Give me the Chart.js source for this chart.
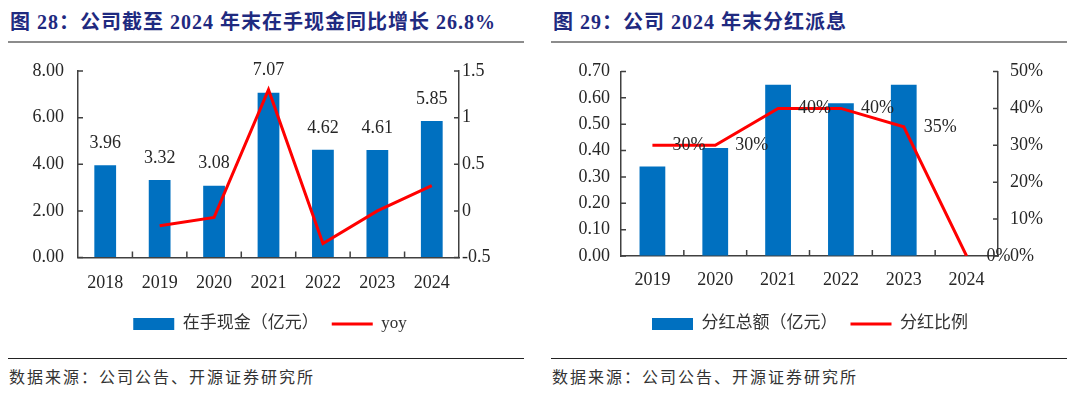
<!DOCTYPE html>
<html lang="zh">
<head>
<meta charset="UTF-8">
<title>在手现金与分红派息</title>
<script src="https://cdn.jsdelivr.net/npm/chart.js"></script>
<style>
  body { margin:0; width:1080px; height:394px; background:#fff; position:relative; overflow:hidden;
         font-family:"Liberation Serif","Noto Sans CJK SC",serif; }
  .title { position:absolute; top:10px; font-size:20px; font-weight:bold; color:#1F2A80; letter-spacing:1px;
           white-space:nowrap; line-height:24px; }
  .rule { position:absolute; top:41px; height:2px; background:#8c8c8c; }
  .src-rule { position:absolute; top:357.5px; height:1.5px; background:#222; }
  .src { position:absolute; top:366px; font-size:16px; letter-spacing:2px; color:#333; white-space:nowrap;
         line-height:20px; font-family:"Noto Sans CJK SC"; }
  canvas { position:absolute; top:50px; }
</style>
</head>
<body>

<div class="title" style="left:10px">图 28：公司截至 2024 年末在手现金同比增长 26.8%</div>
<div class="rule" style="left:8px;width:516px"></div>
<div class="title" style="left:553px">图 29：公司 2024 年末分红派息</div>
<div class="rule" style="left:551px;width:516px"></div>

<canvas id="cash" width="540" height="305" style="left:0"></canvas>
<canvas id="div" width="540" height="305" style="left:540px"></canvas>

<div class="src-rule" style="left:8px;width:516px"></div>
<div class="src" style="left:9px">数据来源：公司公告、开源证券研究所</div>
<div class="src-rule" style="left:551px;width:516px"></div>
<div class="src" style="left:552px">数据来源：公司公告、开源证券研究所</div>

<script>
// 图28：在手现金
var cashYears = ['2018', '2019', '2020', '2021', '2022', '2023', '2024'];
var cashValues = [3.96, 3.32, 3.08, 7.07, 4.62, 4.61, 5.85];
var cashYoy = [null, -0.16, -0.07, 1.30, -0.35, 0.00, 0.27];

// 图29：分红
var divYears = ['2019', '2020', '2021', '2022', '2023', '2024'];
var divValues = [0.34, 0.41, 0.65, 0.58, 0.65, 0];
var divRatio = [30, 30, 40, 40, 35, 0];

var fam = '"Liberation Serif", "Noto Sans CJK SC", serif';
var axisColor = '#404040';
var textColor = '#262626';

// 刻度线朝内
var innerTicks = {
  id: 'innerTicks',
  afterDraw: function(chart) {
    var ctx = chart.ctx, a = chart.chartArea;
    ctx.save();
    ctx.strokeStyle = axisColor;
    ctx.lineWidth = 1.5;
    ctx.beginPath();
    chart.scales.y.ticks.forEach(function(t, i) {
      var py = chart.scales.y.getPixelForTick(i);
      ctx.moveTo(a.left, py); ctx.lineTo(a.left + 5, py);
    });
    chart.scales.y1.ticks.forEach(function(t, i) {
      var py = chart.scales.y1.getPixelForTick(i);
      ctx.moveTo(a.right, py); ctx.lineTo(a.right - 5, py);
    });
    var n = chart.data.labels.length, w = (a.right - a.left) / n;
    for (var i = 1; i < n; i++) {
      var px = a.left + i * w;
      ctx.moveTo(px, a.bottom); ctx.lineTo(px, a.bottom - 6);
    }
    ctx.stroke();
    ctx.restore();
  }
};

// 数据标签
var valueLabels = {
  id: 'valueLabels',
  afterDatasetsDraw: function(chart, args, opts) {
    var meta = chart.getDatasetMeta(opts.dataset);
    var ds = chart.data.datasets[opts.dataset];
    var ctx = chart.ctx;
    ctx.save();
    ctx.font = '18px "Liberation Serif"';
    ctx.fillStyle = textColor;
    ctx.textAlign = opts.align;
    ctx.textBaseline = 'middle';
    meta.data.forEach(function(el, i) {
      var v = ds.data[i];
      if (v === null) return;
      ctx.fillText(v.toFixed(opts.decimals) + opts.suffix, el.x + opts.dx, el.y + opts.dy);
    });
    ctx.restore();
  }
};

function legendOpts() {
  return {
    position: 'bottom',
    labels: {
      usePointStyle: true, pointStyleWidth: 41, boxHeight: 12, padding: 13,
      color: '#333', font: { size: 17, family: fam },
      sort: function(a, b) { return a.datasetIndex - b.datasetIndex; }
    }
  };
}

function xAxis(h, pad) {
  return {
    grid: { display: true, drawOnChartArea: false, drawTicks: false },
    border: { color: axisColor, width: 1.5 },
    ticks: { padding: pad, color: textColor, maxRotation: 0, autoSkip: false, font: { size: 18, family: 'Liberation Serif' } },
    afterFit: function(s) { s.height = h; }
  };
}

function yAxis(pos, min, max, step, pad, w, cb) {
  return {
    position: pos, min: min, max: max,
    grid: { display: true, drawOnChartArea: false, drawTicks: false },
    border: { color: axisColor, width: 1.5 },
    ticks: { stepSize: step, padding: pad, color: textColor, font: { size: 18, family: 'Liberation Serif' }, callback: cb },
    afterFit: function(s) { s.width = w; s.paddingTop = 0; s.paddingBottom = 0; }
  };
}

new Chart(document.getElementById('cash'), {
  data: {
    labels: cashYears,
    datasets: [
      { type: 'bar', label: '在手现金（亿元）', data: cashValues, backgroundColor: '#0070C0',
        barPercentage: 0.4, categoryPercentage: 1, yAxisID: 'y', order: 1, pointStyle: 'rect' },
      { type: 'line', label: 'yoy', data: cashYoy, borderColor: '#FF0000', backgroundColor: '#FF0000',
        borderWidth: 3, pointRadius: 0, tension: 0, yAxisID: 'y1', order: 0, pointStyle: 'line' }
    ]
  },
  options: {
    responsive: false, animation: false,
    layout: { padding: { top: 21, bottom: 12.5, left: 0, right: 0 } },
    plugins: {
      legend: legendOpts(),
      tooltip: { enabled: false },
      valueLabels: { dataset: 0, align: 'center', dx: 0, dy: -22, decimals: 2, suffix: '' }
    },
    scales: {
      x: xAxis(45, 14.5),
      y: yAxis('left', 0, 8, 2, 14, 78, function(v) { return v.toFixed(2); }),
      y1: yAxis('right', -0.5, 1.5, 0.5, 3, 81, function(v) { return String(v); })
    }
  },
  plugins: [innerTicks, valueLabels]
});

new Chart(document.getElementById('div'), {
  data: {
    labels: divYears,
    datasets: [
      { type: 'bar', label: '分红总额（亿元）', data: divValues, backgroundColor: '#0070C0',
        barPercentage: 0.41, categoryPercentage: 1, yAxisID: 'y', order: 1, pointStyle: 'rect' },
      { type: 'line', label: '分红比例', data: divRatio, borderColor: '#FF0000', backgroundColor: '#FF0000',
        borderWidth: 3, pointRadius: 0, tension: 0, yAxisID: 'y1', order: 0, pointStyle: 'line' }
    ]
  },
  options: {
    responsive: false, animation: false,
    layout: { padding: { top: 21.5, bottom: 12.5, left: 0, right: 0 } },
    plugins: {
      legend: legendOpts(),
      tooltip: { enabled: false },
      valueLabels: { dataset: 1, align: 'left', dx: 20, dy: 0, decimals: 0, suffix: '%' }
    },
    scales: {
      x: xAxis(46.5, 13),
      y: yAxis('left', 0, 0.7, 0.1, 11, 81, function(v) { return v.toFixed(2); }),
      y1: yAxis('right', 0, 50, 10, 12, 82, function(v) { return v + '%'; })
    }
  },
  plugins: [innerTicks, valueLabels]
});
</script>
</body>
</html>
